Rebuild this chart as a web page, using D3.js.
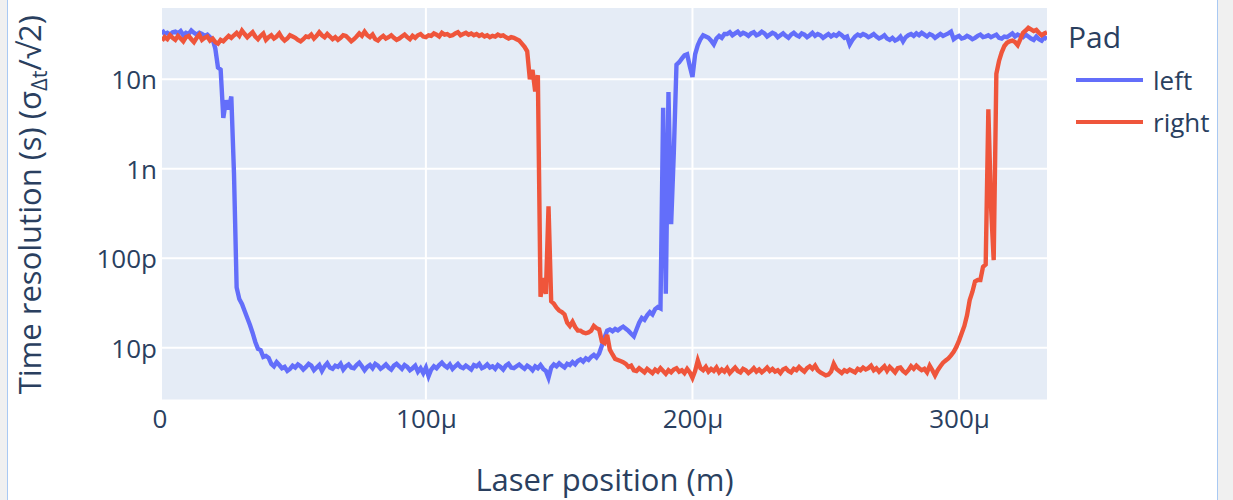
<!DOCTYPE html>
<html>
<head>
<meta charset="utf-8">
<script src="https://cdn.jsdelivr.net/npm/d3@7"></script>
<style>
  html, body { margin: 0; padding: 0; background: #f0f0f0; width: 1233px; height: 500px; overflow: hidden; }
  #frame { position: absolute; left: 7px; top: -5px; width: 1209px; height: 510px; background: #fff;
           border-left: 1px solid #a9c9f3; border-right: 1px solid #a9c9f3; }
  svg { position: absolute; left: 0; top: 0; }
  text { font-family: "Open Sans", sans-serif; fill: #2a3f5f; }
</style>
</head>
<body>
<div id="frame"></div>
<svg id="chart" width="1233" height="500"></svg>
<script>
// ---------------- data ----------------
// laser scan positions (micrometres), one sample per micrometre
const scanStartUm = 1;
const scanEndUm = 333;
const padNames = ["left", "right"];
const legendTitle = "Pad";
const xTickValues = [0, 100e-6, 200e-6, 300e-6];
const xTickLabels = ["0", "100μ", "200μ", "300μ"];
const yTickValues = [1e-11, 1e-10, 1e-9, 1e-8];
const yTickLabels = ["10p", "100p", "1n", "10n"];

// time resolution, in picoseconds
const leftPs = [
  35500,32000,33000,31500,33500,34000,32500,34500,31000,33000,
  32000,35000,33000,31500,33000,32000,30500,31500,29500,28000,
  22000,13500,12800,3700,5800,4600,6400,900,47,35,
  30.8,25.7,21.5,17.9,14.6,11.6,9.7,9.4,7.9,8.1,
  7.7,6.6,6.2,6.9,
  6.4,5.9,6.1,5.5,5.8,6.3,6.0,6.5,6.2,5.7,
  6.1,6.6,6.3,5.6,6.0,6.4,5.5,6.2,6.7,6.0,
  5.8,6.3,6.1,6.6,5.7,6.2,6.5,6.0,5.9,6.4,
  6.8,6.2,5.6,6.1,6.4,5.9,6.6,6.3,5.8,6.1,
  6.5,6.0,5.7,6.3,6.6,6.2,5.8,6.4,6.1,5.6,
  5.9,6.3,5.4,5.9,5.2,6.0,4.8,5.7,6.2,5.9,
  6.4,6.8,6.3,6.0,6.5,5.8,6.2,6.6,6.1,5.9,
  6.3,6.0,5.7,6.4,6.2,6.6,5.9,6.1,6.5,6.0,
  6.2,5.8,6.4,6.1,5.7,6.3,6.6,6.0,5.9,6.2,
  6.5,6.1,5.8,6.3,6.0,5.6,6.2,5.9,6.4,5.8,
  5.5,4.6,6.0,6.5,6.2,6.7,
  6.3,6.0,6.6,6.4,6.9,6.5,7.1,7.4,7.0,7.6,
  7.3,7.9,8.3,7.8,8.6,10.5,13.0,15.5,16.0,15.3,
  16.2,15.6,16.5,17.2,16.3,15.4,14.3,13.4,16.0,19.0,
  21.5,20.5,23.0,25.0,23.5,27.0,28.5,27.5,4800,40,
  7200,240,1500,14500,15500,17000,18500,19000,14000,10600,
  19000,24000,28000,31000,30000,29000,27000,24500,28500,30500,
  29000,32000,
  32000,33500,31000,32500,34000,31500,33000,32000,30500,32500,
  33500,31000,32000,34000,32500,30000,31500,33000,32000,29500,
  31000,32500,30500,29000,31500,33000,31000,30000,32500,31500,
  29500,31000,33000,30500,32000,31000,29000,30500,32000,30000,
  31500,30500,32500,31000,29000,30000,24500,27500,30000,31500,
  30500,32000,31000,29500,30500,32000,30000,28500,29500,31000,
  28500,27500,29000,27000,28000,30000,26500,29500,31000,32000,
  30500,32500,31000,33000,31500,30000,32000,31000,29000,30500,
  32000,30500,31500,32500,34000,28000,29500,30500,28500,29000,
  30500,29500,28000,29000,30500,31500,29500,30000,31000,29500,
  30500,31500,29000,28500,30000,29500,31000,32500,30000,31500,
  30500,29500,31500,30000,28500,27500,30000,28000,27000,29500,28000
];

const rightPs = [
  27000,29500,28000,31000,29000,27500,30500,28500,26500,29500,
  30500,28000,26000,29000,31500,27500,29000,30000,27000,28500,
  26000,25000,27500,26500,28500,30500,29000,31000,33000,30500,
  35000,32000,29500,31500,33500,30000,28000,30500,32500,27500,
  29500,31000,28500,30000,32500,29000,27000,28500,31000,30000,
  29000,27500,26500,28000,30000,29500,31500,28500,30500,33500,
  31000,29500,32000,30000,28000,29500,27500,29000,31000,30500,
  28500,26500,28000,30000,32500,30500,34000,31000,29500,31500,
  28000,27000,29000,30500,28500,29500,31000,29000,27500,28500,
  30000,31500,29500,28000,30500,29000,31000,32000,30000,29500,
  31000,30500,32500,31500,30000,33000,31500,32000,30500,31000,
  32500,33500,31000,32000,33000,31500,32500,31000,32000,30500,
  31500,30000,31000,29500,30500,
  30000,31500,30500,31000,29500,28500,29500,29000,28000,27000,
  25000,23000,20500,10000,12700,7300,11100,37,60,40,380,
  33,31,28,26,25,23.5,19,17.5,19.5,17,
  15.5,15.5,14.8,14.5,14.8,15.5,17.5,16.5,16.0,11.8,
  11.3,13.9,9.5,8.4,7.5,7.3,7.1,6.9,6.6,6.1,
  6.3,5.6,5.5,5.9,
  5.6,5.3,5.8,5.5,5.2,5.7,5.4,5.9,5.5,5.1,
  5.6,5.3,5.7,5.9,5.4,5.6,5.2,5.8,5.3,4.6,
  5.5,7.2,5.9,5.6,6.1,5.4,5.8,5.5,6.0,5.3,
  5.7,5.4,5.9,5.2,5.6,6.0,5.5,5.3,5.8,5.6,
  5.2,5.5,5.9,5.4,5.7,5.3,5.6,6.0,5.5,5.8,
  5.4,5.6,5.2,5.7,5.9,5.5,5.3,5.8,5.6,6.1,
  5.7,5.4,5.9,6.2,5.8,6.3,5.6,5.3,5.1,4.9,
  5.0,5.4,6.6,5.8,5.5,5.2,5.6,5.4,5.7,5.5,
  5.3,5.8,5.6,6.0,5.7,5.9,6.3,5.6,5.9,5.4,
  5.8,6.2,5.5,6.1,5.7,5.3,5.9,6.0,5.5,5.2,
  5.6,6.2,5.8,6.3,5.9,5.6,5.8,5.3,
  6.3,5.6,4.9,5.6,6.2,6.8,7.2,7.6,8.2,9.0,
  10.2,12.0,14.5,17.5,23,34,42,55,57,57,
  80,85,4600,380,95,11500,16000,20000,23500,25500,
  26500,27000,26000,24000,28000,33000,35000,37500,36000,34500,
  35500,33000,31000,32500,33500
];

const seriesColors = ["#636efa", "#EF553B"];

// ---------------- chart ----------------
const positionsM = d3.range(scanStartUm, scanEndUm + 1).map(u => u * 1e-6);
const series = [leftPs, rightPs].map((vals, i) => ({
  name: padNames[i],
  color: seriesColors[i],
  points: vals.map((v, k) => [positionsM[k], v * 1e-12])
}));

const L = 162, R = 1047, T = 8, B = 399.5;
const svg = d3.select("#chart");

const x = d3.scaleLinear().domain(d3.extent(positionsM)).range([L, R]);
const y = d3.scaleLog().domain([2.637e-12, 6.25e-8]).range([B, T]);

svg.append("rect").attr("x", L).attr("y", T).attr("width", R - L).attr("height", B - T)
  .attr("fill", "#E5ECF6");

// gridlines
svg.append("g").selectAll("line").data(xTickValues.filter(v => x(v) > L + 1))
  .join("line")
  .attr("x1", d => x(d)).attr("x2", d => x(d)).attr("y1", T).attr("y2", B)
  .attr("stroke", "#fff").attr("stroke-width", 2);
svg.append("g").selectAll("line").data(yTickValues)
  .join("line")
  .attr("x1", L).attr("x2", R).attr("y1", d => y(d)).attr("y2", d => y(d))
  .attr("stroke", "#fff").attr("stroke-width", 2);

// axes (labels only)
const xAxis = d3.axisBottom(x).tickValues(xTickValues)
  .tickFormat((d, i) => xTickLabels[i]).tickSize(0).tickPadding(0);
const gx = svg.append("g").attr("transform", `translate(0,${B})`).call(xAxis);
gx.select(".domain").remove();
gx.selectAll("text").attr("font-size", 26).attr("dy", null).attr("y", 28.5)
  .style("font-family", '"Open Sans", sans-serif').attr("fill", "#2a3f5f");

const yAxis = d3.axisLeft(y).tickValues(yTickValues)
  .tickFormat((d, i) => yTickLabels[i]).tickSize(0).tickPadding(0);
const gy = svg.append("g").attr("transform", `translate(${L - 5},0)`).call(yAxis);
gy.select(".domain").remove();
gy.selectAll("text").attr("font-size", 26).attr("x", 0).attr("dy", "0.37em")
  .style("font-family", '"Open Sans", sans-serif').attr("fill", "#2a3f5f");

// lines
svg.append("clipPath").attr("id", "clip").append("rect")
  .attr("x", L).attr("y", T).attr("width", R - L).attr("height", B - T);
const line = d3.line().x(d => x(d[0])).y(d => y(d[1]));
svg.append("g").attr("clip-path", "url(#clip)")
  .selectAll("path").data(series).join("path")
  .attr("d", d => line(d.points))
  .attr("fill", "none").attr("stroke", d => d.color).attr("stroke-width", 4.4);

// axis titles
svg.append("text").attr("x", (L + R) / 2).attr("y", 491).attr("text-anchor", "middle")
  .attr("font-size", 31).text("Laser position (m)");

const yt = svg.append("text").attr("transform", `translate(41,${(T + B) / 2 + 1}) rotate(-90)`)
  .attr("text-anchor", "middle").attr("font-size", 31);
yt.append("tspan").text("Time resolution (s) (σ");
yt.append("tspan").attr("font-size", 22).attr("dy", 6).text("Δt");
yt.append("tspan").attr("font-size", 31).attr("dy", -6).text("/√2)");

// legend
svg.append("text").attr("x", 1068).attr("y", 47.5).attr("font-size", 30).text(legendTitle);
const lg = svg.append("g").selectAll("g").data(series).join("g")
  .attr("transform", (d, i) => `translate(0,${80 + i * 42})`);
lg.append("line").attr("x1", 1076).attr("x2", 1143).attr("y1", 0).attr("y2", 0)
  .attr("stroke", d => d.color).attr("stroke-width", 4);
lg.append("text").attr("x", 1153).attr("y", 0).attr("dy", "0.37em").attr("font-size", 26)
  .text(d => d.name);
</script>
</body>
</html>
